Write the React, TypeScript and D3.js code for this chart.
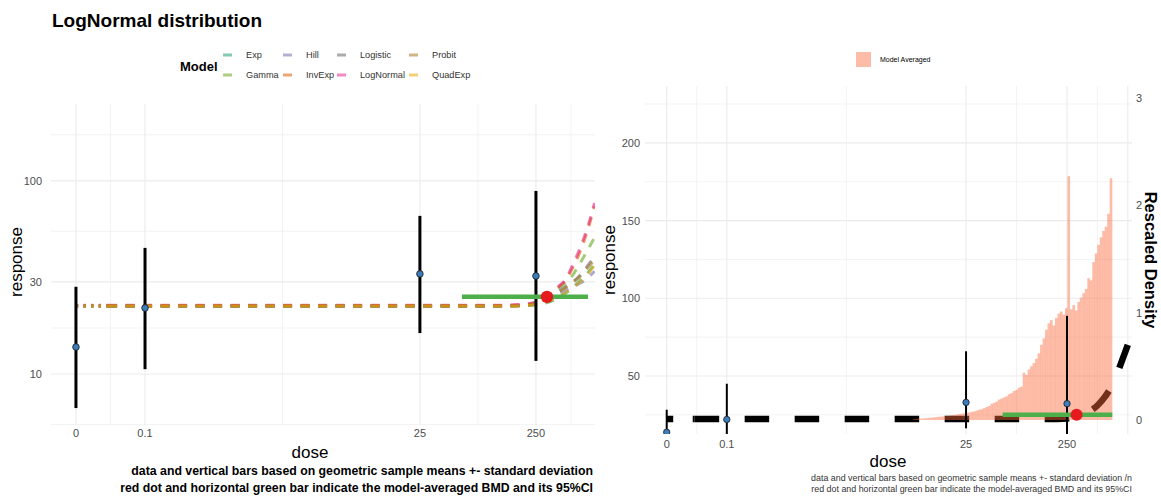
import React from "react";
import * as d3 from "d3";

// ---------------- data ----------------
const doseBreaks = [0, 0.1, 25, 250, 1000];
const doseLabels = ["0", "0.1", "25", "250", ""];
const breakDose = 0.037; // dotted segment ends here (axis break)

const obsDose = [0, 0.1, 25, 250];
const obsMean = [13.8, 22.0, 33.0, 32.2];
const obsLower = [6.67, 10.6, 16.3, 11.7];
const obsUpper = [28.3, 45.0, 65.9, 88.7];

const bmd = 311;
const bmdl = 57.6;
const bmdu = 702;
const bmdResponse = 25.1;

const modelNames = ["Exp", "Gamma", "Hill", "InvExp", "Logistic", "LogNormal", "Probit", "QuadExp"];
const modelColors = ["#1B9E77", "#66A61E", "#7570B3", "#D95F02", "#666666", "#E7298A", "#A6761D", "#E6AB02"];

const curveDoses = [0, 0.037, 0.1, 1, 10, 25, 50, 100, 150, 200, 250, 300, 350, 400, 450, 500, 600, 700, 800];
const expResp = [22.5, 22.5, 22.5, 22.5, 22.5, 22.5, 22.5, 22.5, 22.5, 22.6, 22.8, 23.3, 24.0, 25.0, 26.2, 27.5, 30.5, 33.5, 37.0];
const gammaResp = [22.5, 22.5, 22.5, 22.5, 22.5, 22.5, 22.5, 22.5, 22.6, 22.8, 23.3, 24.4, 26.0, 28.0, 29.6, 31.5, 37.5, 44.0, 51.0];
const hillResp = [22.5, 22.5, 22.5, 22.5, 22.5, 22.5, 22.5, 22.5, 22.6, 22.7, 23.0, 23.7, 24.7, 25.9, 27.0, 28.0, 29.5, 31.5, 34.0];
const invExpResp = [22.6, 22.6, 22.6, 22.6, 22.6, 22.6, 22.6, 22.6, 22.7, 22.9, 23.4, 24.6, 26.3, 28.5, 30.5, 34.0, 43.0, 56.0, 74.0];
const logisticResp = [22.5, 22.5, 22.5, 22.5, 22.5, 22.5, 22.5, 22.5, 22.5, 22.7, 23.2, 24.2, 25.5, 27.0, 28.3, 29.5, 32.5, 36.5, 40.5];
const logNormalResp = [22.7, 22.7, 22.7, 22.7, 22.7, 22.7, 22.7, 22.7, 22.8, 23.0, 23.6, 24.8, 26.6, 28.8, 30.8, 35.0, 45.0, 58.0, 77.0];
const probitResp = [22.5, 22.5, 22.5, 22.5, 22.5, 22.5, 22.5, 22.5, 22.5, 22.7, 23.2, 24.1, 25.3, 26.7, 28.0, 29.3, 32.0, 35.5, 39.0];
const quadExpResp = [22.5, 22.5, 22.5, 22.5, 22.5, 22.5, 22.5, 22.5, 22.5, 22.6, 22.9, 23.4, 24.2, 25.2, 26.4, 27.6, 30.0, 33.0, 36.5];
const modelResp = [expResp, gammaResp, hillResp, invExpResp, logisticResp, logNormalResp, probitResp, quadExpResp];

const avgDoses = [0, 0.037, 0.1, 1, 10, 25, 50, 100, 150, 200, 250, 300, 400, 500, 600, 700, 800, 900, 1000, 1100];
const avgResp = [22.3, 22.3, 22.3, 22.3, 22.3, 22.3, 22.3, 22.3, 22.3, 22.3, 22.6, 23.4, 26.5, 31.0, 37.0, 44.0, 53.0, 62.0, 70.0, 78.0];

// rescaled density of the model-averaged BMD (bins equally spaced on the transformed dose axis)
const densityFrom = 7.5;
const densityTo = 700;
const densityValues = [
  0.01, 0.01, 0.012, 0.014, 0.015, 0.017, 0.02, 0.022, 0.025, 0.027,
  0.03, 0.032, 0.035, 0.037, 0.04, 0.044, 0.047, 0.05, 0.055, 0.058,
  0.062, 0.066, 0.07, 0.075, 0.08, 0.088, 0.095, 0.1, 0.11, 0.12,
  0.13, 0.15, 0.16, 0.17, 0.19, 0.2, 0.21, 0.22, 0.24, 0.25,
  0.27, 0.28, 0.3, 0.31, 0.44, 0.42, 0.47, 0.5, 0.53, 0.57,
  0.62, 0.7, 0.76, 0.84, 0.9, 0.93, 0.88, 0.95, 0.99, 1.01,
  0.98, 1.04, 2.27, 1.03, 1.07, 1.02, 1.1, 1.14, 1.18, 1.22,
  1.32, 1.3, 1.47, 1.55, 1.63, 1.7, 1.76, 1.8, 1.92, 2.25,
];
const densityTicks = [0, 1, 2, 3];
const secOffset = 21.7; // response = secOffset + secScale * density
const secScale = 69.1;

const leftYTicks = [10, 30, 100];
const leftYBreaksAll = [3, 10, 30, 100, 300];
const rightYTicks = [50, 100, 150, 200];
const rightYMinor = [25, 75, 125, 175, 225];

// ---------------- helpers ----------------
const SIG = 0.0543;
const tf = (d: number) => Math.asinh(d / SIG);
const FONT = "'Liberation Sans', Arial, Helvetica, sans-serif";
const GRID = "#EBEBEB";
const TICK = "#4D4D4D";

function minorDoseBreaks() {
  const out: number[] = [];
  for (let i = 0; i < doseBreaks.length - 1; i++) out.push((tf(doseBreaks[i]) + tf(doseBreaks[i + 1])) / 2);
  return out; // in transformed units
}

export default function App() {
  // ---------- left panel scales ----------
  const L = { x0: 51, x1: 595, y0: 104, y1: 425 };
  const xLt = d3.scaleLinear().domain([tf(-0.028), tf(807)]).range([L.x0, L.x1]);
  const xL = (d: number) => xLt(tf(d));
  const yL = d3.scaleLog().domain([5.45, 250]).range([L.y1, L.y0]);

  // ---------- right panel scales ----------
  const R = { x0: 645, x1: 1132, y0: 86, y1: 434 };
  const xRt = d3.scaleLinear().domain([tf(-0.028), tf(1100)]).range([R.x0, R.x1]);
  const xR = (d: number) => xRt(tf(d));
  const yR = d3.scaleLinear().domain([12.66, 236.6]).range([R.y1, R.y0]);
  const yDen = (v: number) => yR(secOffset + secScale * v);

  const minorT = minorDoseBreaks();

  const lineGen = (xs: (d: number) => number, ys: (v: number) => number) =>
    d3
      .line<[number, number]>()
      .x((p) => xs(p[0]))
      .y((p) => ys(p[1]))
      .curve(d3.curveMonotoneX);

  const splitPts = (ds: number[], vs: number[]) => {
    const pts: [number, number][] = ds.map((d, i) => [d, vs[i]]);
    return {
      dotted: pts.filter((p) => p[0] <= breakDose),
      dashed: pts.filter((p) => p[0] >= breakDose),
    };
  };

  const leftLine = lineGen(xL, yL);
  const rightLine = lineGen(xR, yR);
  const avg = splitPts(avgDoses, avgResp);

  const t0 = tf(densityFrom);
  const t1 = tf(densityTo);
  const nb = densityValues.length;
  const bw = (t1 - t0) / nb;

  return (
    <svg width={1161} height={500} style={{ display: "block", position: "absolute", left: 0, top: 0 }} fontFamily={FONT}>
      <defs>
        <clipPath id="clipL">
          <rect x={L.x0} y={L.y0} width={L.x1 - L.x0} height={L.y1 - L.y0} />
        </clipPath>
        <clipPath id="clipR">
          <rect x={R.x0} y={R.y0} width={R.x1 - R.x0} height={R.y1 - R.y0} />
        </clipPath>
      </defs>
      <rect width={1161} height={500} fill="#fff" />

      {/* ================= LEFT PANEL ================= */}
      <text x={52} y={27} fontSize={19} fontWeight="bold" fill="#000">LogNormal distribution</text>

      {/* legend */}
      <text x={180} y={71} fontSize={13} fontWeight="bold" fill="#000">Model</text>
      {modelNames.map((m, i) => {
        const col = Math.floor(i / 2);
        const row = i % 2;
        const kx = [223, 283, 337, 409][col];
        const ly = [55, 75][row];
        return (
          <g key={m}>
            <line x1={kx} x2={kx + 9} y1={ly} y2={ly} stroke={modelColors[i]} strokeOpacity={0.55} strokeWidth={3} />
            <text x={kx + 23} y={ly + 3.3} fontSize={9.2} fill="#333">{m}</text>
          </g>
        );
      })}

      {/* grid */}
      {minorT.filter((t) => xLt(t) >= L.x0 && xLt(t) <= L.x1).map((t, i) => (
        <line key={"lmx" + i} x1={xLt(t)} x2={xLt(t)} y1={L.y0} y2={L.y1} stroke={GRID} strokeWidth={0.6} />
      ))}
      {leftYBreaksAll.slice(0, -1).map((b, i) => {
        const v = Math.sqrt(b * leftYBreaksAll[i + 1]);
        const y = yL(v);
        if (y < L.y0 || y > L.y1) return null;
        return <line key={"lmy" + i} x1={L.x0} x2={L.x1} y1={y} y2={y} stroke={GRID} strokeWidth={0.6} />;
      })}
      {doseBreaks.filter((d) => xL(d) <= L.x1).map((d) => (
        <line key={"lgx" + d} x1={xL(d)} x2={xL(d)} y1={L.y0} y2={L.y1} stroke={GRID} strokeWidth={1.1} />
      ))}
      {leftYTicks.map((v) => (
        <line key={"lgy" + v} x1={L.x0} x2={L.x1} y1={yL(v)} y2={yL(v)} stroke={GRID} strokeWidth={1.1} />
      ))}

      {leftYTicks.map((v) => (
        <text key={"lyt" + v} x={42} y={yL(v) + 4} fontSize={11} fill={TICK} textAnchor="end">{v}</text>
      ))}
      {doseBreaks.map((d, i) =>
        xL(d) <= L.x1 && doseLabels[i] ? (
          <text key={"lxt" + d} x={xL(d)} y={437} fontSize={11} fill={TICK} textAnchor="middle">{doseLabels[i]}</text>
        ) : null
      )}
      <text x={310} y={458} fontSize={17} fill="#000" textAnchor="middle">dose</text>
      <text transform={`translate(22,262) rotate(-90)`} fontSize={17} fill="#000" textAnchor="middle">response</text>

      <g clipPath="url(#clipL)">
        {modelResp.map((vals, i) => {
          const s = splitPts(curveDoses, vals);
          return (
            <g key={"m" + i}>
              <path d={leftLine(s.dotted) || ""} fill="none" stroke={modelColors[i]} strokeOpacity={0.6} strokeWidth={3} strokeDasharray="2.2 5.4" />
              <path d={leftLine(s.dashed) || ""} fill="none" stroke={modelColors[i]} strokeOpacity={0.6} strokeWidth={3} strokeDasharray="9 8.5" />
            </g>
          );
        })}
        {obsDose.map((d, i) => (
          <line key={"le" + i} x1={xL(d)} x2={xL(d)} y1={yL(obsLower[i])} y2={yL(obsUpper[i])} stroke="#000" strokeWidth={3} />
        ))}
        <line x1={xL(bmdl)} x2={xL(bmdu)} y1={yL(bmdResponse)} y2={yL(bmdResponse)} stroke="#4DAF4A" strokeWidth={4.5} />
        {obsDose.map((d, i) => (
          <circle key={"lp" + i} cx={xL(d)} cy={yL(obsMean[i])} r={3.3} fill="#3A7DBA" stroke="#1a1a1a" strokeWidth={0.8} />
        ))}
        <circle cx={xL(bmd)} cy={yL(bmdResponse)} r={6.2} fill="#E41A1C" />
      </g>

      <text x={593} y={475} fontSize={12.3} fontWeight="bold" fill="#000" textAnchor="end">data and vertical bars based on geometric sample means +- standard deviation</text>
      <text x={593} y={492} fontSize={12.3} fontWeight="bold" fill="#000" textAnchor="end">red dot and horizontal green bar indicate the model-averaged BMD and its 95%CI</text>

      {/* ================= RIGHT PANEL ================= */}
      <rect x={856} y={52} width={15} height={15} fill="#FA6A3C" fillOpacity={0.45} />
      <text x={880} y={62} fontSize={7} fill="#000">Model Averaged</text>

      {minorT.filter((t) => xRt(t) >= R.x0 && xRt(t) <= R.x1).map((t, i) => (
        <line key={"rmx" + i} x1={xRt(t)} x2={xRt(t)} y1={R.y0} y2={R.y1} stroke={GRID} strokeWidth={0.6} />
      ))}
      {rightYMinor.map((v) => (
        <line key={"rmy" + v} x1={R.x0} x2={R.x1} y1={yR(v)} y2={yR(v)} stroke={GRID} strokeWidth={0.6} />
      ))}
      {doseBreaks.filter((d) => xR(d) <= R.x1).map((d) => (
        <line key={"rgx" + d} x1={xR(d)} x2={xR(d)} y1={R.y0} y2={R.y1} stroke={GRID} strokeWidth={1.1} />
      ))}
      {rightYTicks.map((v) => (
        <line key={"rgy" + v} x1={R.x0} x2={R.x1} y1={yR(v)} y2={yR(v)} stroke={GRID} strokeWidth={1.1} />
      ))}

      {rightYTicks.map((v) => (
        <text key={"ryt" + v} x={640} y={yR(v) + 4} fontSize={11} fill={TICK} textAnchor="end">{v}</text>
      ))}
      {doseBreaks.map((d, i) =>
        xR(d) <= R.x1 && doseLabels[i] ? (
          <text key={"rxt" + d} x={xR(d)} y={448} fontSize={11} fill={TICK} textAnchor="middle">{doseLabels[i]}</text>
        ) : null
      )}
      {densityTicks.map((v) => (
        <text key={"rdt" + v} x={1136} y={yDen(v) + 4} fontSize={11} fill={TICK}>{v}</text>
      ))}
      <text x={888} y={467} fontSize={17} fill="#000" textAnchor="middle">dose</text>
      <text transform={`translate(615,260) rotate(-90)`} fontSize={17} fill="#000" textAnchor="middle">response</text>
      <text transform={`translate(1145,260) rotate(90)`} fontSize={16.5} fontWeight="bold" fill="#000" textAnchor="middle">Rescaled Density</text>

      <g clipPath="url(#clipR)">
        <path d={rightLine(avg.dotted) || ""} fill="none" stroke="#000" strokeWidth={6.5} strokeDasharray="6.5 19.5" />
        <path d={rightLine(avg.dashed) || ""} fill="none" stroke="#000" strokeWidth={6.5} strokeDasharray="24.5 25.5" />
        {densityValues.map((v, i) => {
          const xa = xRt(t0 + i * bw);
          const xb = xRt(t0 + (i + 1) * bw);
          return (
            <rect key={"h" + i} x={xa} y={yDen(v)} width={xb - xa + 0.15} height={yDen(0) - yDen(v)} fill="#FA6A3C" fillOpacity={0.45} />
          );
        })}
        {obsDose.map((d, i) => (
          <line key={"re" + i} x1={xR(d)} x2={xR(d)} y1={yR(obsLower[i])} y2={yR(obsUpper[i])} stroke="#000" strokeWidth={2} />
        ))}
        <line x1={xR(bmdl)} x2={xR(bmdu)} y1={yR(bmdResponse)} y2={yR(bmdResponse)} stroke="#4DAF4A" strokeWidth={4.5} />
        {obsDose.map((d, i) => (
          <circle key={"rp" + i} cx={xR(d)} cy={yR(obsMean[i])} r={3.2} fill="#3A7DBA" stroke="#1a1a1a" strokeWidth={0.8} />
        ))}
        <circle cx={xR(bmd)} cy={yR(bmdResponse)} r={6} fill="#E41A1C" />
      </g>

      <text x={1132} y={481} fontSize={8.9} fill="#333" textAnchor="end">data and vertical bars based on geometric sample means +- standard deviation /n</text>
      <text x={1132} y={492} fontSize={8.9} fill="#333" textAnchor="end">red dot and horizontal green bar indicate the model-averaged BMD and its 95%CI</text>
    </svg>
  );
}
